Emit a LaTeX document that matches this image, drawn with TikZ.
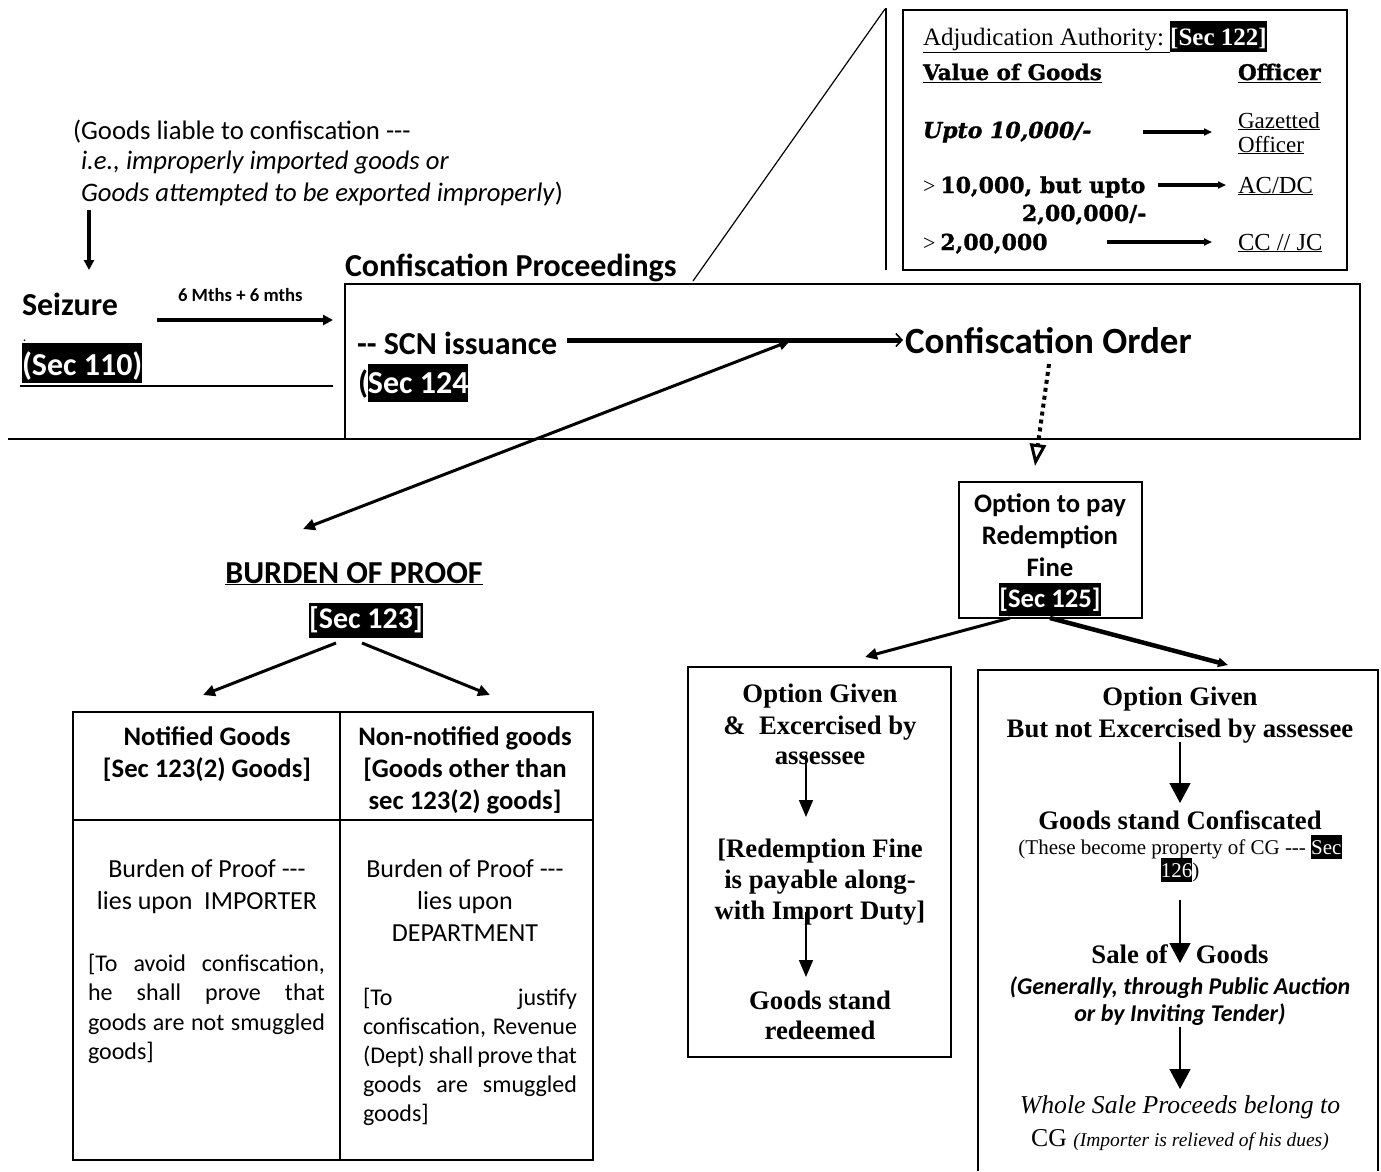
\documentclass[tikz,border=0pt]{standalone}
\usepackage{fontspec}
\setmainfont{Carlito}
\newfontfamily\tnr{Liberation Serif}
\newfontfamily\bkm{DejaVu Serif}[BoldFeatures={FakeBold=1.2},BoldItalicFeatures={FakeBold=1.2}]
\usetikzlibrary{arrows.meta}
\newcommand\fsz[2]{\fontsize{#1}{#2}\selectfont}
% white text on a black band: #1 depth below baseline, #2 band height
\newcommand\hlx[3]{{\setlength\fboxsep{0pt}\colorbox{black}{\rule[-#1]{0pt}{#2}\textcolor{white}{#3}}}}
\begin{document}
\begin{tikzpicture}[x=1pt,y=-1pt,
  every node/.style={inner sep=0pt,outer sep=0pt},
  lbl/.style={anchor=base west},
  ctr/.style={anchor=base},
  thick arrow/.style={line width=3pt,-{Triangle[length=12pt,width=11pt]}},
  slim arrow/.style={line width=1.5pt,-{Triangle[length=17pt,width=14pt]}},
  big arrow/.style={line width=1.5pt,-{Triangle[length=20pt,width=21pt]}},
  rate arrow/.style={line width=4pt,-{Triangle[length=8pt,width=7pt]}},
  frame/.style={draw,line width=1.5pt,anchor=north west},
]
\useasboundingbox[fill=white] (0,0) rectangle (1381,1171);

% ---------- goods liable to confiscation
\node[lbl] (liable1) at (73,139) {\fsz{26.7}{32}(Goods liable to confiscation -{}-{}-};
\node[lbl] (liable2) at (81,169) {\fsz{26.7}{32}\itshape i.e., improperly imported goods or};
\node[lbl] (liable3) at (81,201) {\fsz{26.7}{32}\textit{Goods attempted to be exported improperly})};
\coordinate (liableOut) at (89,210);
\coordinate (seizIn) at (89,270);
\draw[line width=4pt,-{Triangle[length=10pt,width=10pt]}] (liableOut) -- (seizIn);

% ---------- seizure
\node[lbl] (seizure) at (22,315) {\fsz{32}{32}\bfseries Seizure};
\node[lbl] (dot) at (23,341) {\fsz{14}{16}.};
\node[lbl] (sec110) at (22,375) {\fsz{32}{32}\bfseries\hlx{8pt}{40pt}{(Sec 110)}};
\draw[line width=1.5pt] (20,386) -- (333,386);
\node[lbl] (months) at (178,301) {\fsz{18.7}{22}\bfseries 6 Mths + 6 mths};
\coordinate (seizOut) at (157,320);
\coordinate (procIn) at (333,320);
\draw[line width=4.5pt,-{Triangle[length=10pt,width=10pt]}] (seizOut) -- (procIn);

% ---------- confiscation proceedings
\node[lbl] (proctitle) at (345,276) {\fsz{32}{32}\bfseries Confiscation Proceedings};
\node[frame,minimum width=1015pt,minimum height=155pt] (procbox) at (345,284) {};
\draw[line width=1.8pt] (8,439) -- (1360,439);
\node[lbl] (scn) at (357,354) {\fsz{32}{32}\bfseries -{}- SCN issuance};
\node[lbl] (sec124) at (358,393) {\fsz{32}{32}\bfseries (\hlx{9pt}{38pt}{Sec 124}};
\node[lbl] (order) at (905,353) {\fsz{37}{40}\bfseries Confiscation Order};
\coordinate (scnOut) at (567,340);
\coordinate (orderIn) at (903,340);
\draw[line width=5pt,-{Straight Barb[length=6pt,width=13pt,line width=1.6pt]}] (scnOut) -- (orderIn);
\coordinate (scnMid) at (790,341);
\coordinate (burdenIn) at (303,529);
\draw[line width=3pt,{Triangle[length=11pt,width=10pt]}-{Triangle[length=12pt,width=11pt]}] (scnMid) -- (burdenIn);
\coordinate (orderOut) at (1049,364);
\coordinate (optIn) at (1035,466);
\draw[line width=4pt,dash pattern=on 4pt off 4pt,-{Triangle[open,length=22pt,width=16pt,line width=3pt]}] (orderOut) -- (optIn);

% ---------- adjudication authority
\draw[line width=1.5pt] (886,8) -- (886,270);
\draw[line width=1.2pt] (693,281) -- (885,9);
\node[frame,line width=2pt,minimum width=444pt,minimum height=260pt] (adjbox) at (903,10) {};
\node[lbl] (adjtitle) at (923,45) {\fsz{25}{30}\tnr\underline{Adjudication Authority:\ }\hlx{7pt}{31pt}{\bfseries[Sec 122]}};
\node[lbl] (valhead) at (923,80) {\fsz{21.5}{25}\bkm\bfseries\underline{Value of Goods}};
\node[lbl] (offhead) at (1238,80) {\fsz{21.5}{25}\bkm\bfseries\underline{Officer}};
\node[lbl] (rate1) at (923,138) {\fsz{22}{25}\bkm\bfseries\itshape Upto 10,000/-};
\node[lbl] (off1a) at (1238,128) {\fsz{23}{24}\tnr\underline{Gazetted}};
\node[lbl] (off1b) at (1238,152) {\fsz{23}{24}\tnr\underline{Officer}};
\node[lbl] (rate2) at (923,193) {\fsz{22}{25}{\tnr\mdseries >} \bkm\bfseries 10,000, but upto};
\node[lbl] (rate2b) at (1022,221) {\fsz{22}{25}\bkm\bfseries 2,00,000/-};
\node[lbl] (off2) at (1238,193) {\fsz{24.5}{28}\tnr\underline{AC/DC}};
\node[lbl] (rate3) at (923,250) {\fsz{22}{25}{\tnr\mdseries >} \bkm\bfseries 2,00,000};
\node[lbl] (off3) at (1238,250) {\fsz{24.5}{28}\tnr\underline{CC // JC}};
\coordinate (r1s) at (1143,132); \coordinate (r1e) at (1212,132);
\coordinate (r2s) at (1158,185); \coordinate (r2e) at (1226,185);
\coordinate (r3s) at (1107,242); \coordinate (r3e) at (1212,242);
\draw[rate arrow] (r1s) -- (r1e);
\draw[rate arrow] (r2s) -- (r2e);
\draw[rate arrow] (r3s) -- (r3e);

% ---------- option to pay redemption fine
\node[frame,minimum width=183pt,minimum height=136pt] (optbox) at (959,482) {};
\node[ctr] (opt1) at (1050,512) {\fsz{26.7}{32}\bfseries Option to pay};
\node[ctr] (opt2) at (1050,544) {\fsz{26.7}{32}\bfseries Redemption};
\node[ctr] (opt3) at (1050,576) {\fsz{26.7}{32}\bfseries Fine};
\node[ctr] (opt4) at (1050,607) {\fsz{26.7}{32}\bfseries\hlx{9pt}{33pt}{[Sec 125]}};
\coordinate (optOutL) at (1010,618);
\coordinate (givenIn) at (865,657);
\coordinate (optOutR) at (1050,618);
\coordinate (notIn) at (1228,665);
\draw[thick arrow] (optOutL) -- (givenIn);
\draw[line width=4.5pt,-{Triangle[length=10pt,width=9pt]}] (optOutR) -- (notIn);

% ---------- burden of proof
\node[ctr] (burden) at (354,583) {\fsz{32}{32}\bfseries\underline{BURDEN OF PROOF}};
\node[ctr] (sec123) at (366,628) {\fsz{30}{32}\bfseries\hlx{10pt}{35pt}{[Sec 123]}};
\coordinate (bL) at (336,643); \coordinate (notifIn) at (203,695);
\coordinate (bR) at (362,643); \coordinate (nonIn) at (490,695);
\draw[thick arrow] (bL) -- (notifIn);
\draw[thick arrow] (bR) -- (nonIn);

% table of notified / non-notified goods
\draw[line width=1.5pt] (73,712) rectangle (593,1160);
\draw[line width=1.5pt] (340,712) -- (340,1160);
\draw[line width=1.5pt] (73,820) -- (593,820);
\node[ctr] (n1) at (207,745) {\fsz{26.7}{32}\bfseries Notified Goods};
\node[ctr] (n2) at (207,777) {\fsz{26.7}{32}\bfseries [Sec 123(2) Goods]};
\node[ctr] (m1) at (465,745) {\fsz{26.7}{32}\bfseries Non-notified goods};
\node[ctr] (m2) at (465,777) {\fsz{26.7}{32}\bfseries [Goods other than};
\node[ctr] (m3) at (465,809) {\fsz{26.7}{32}\bfseries sec 123(2) goods]};
\node[ctr] (p1) at (207,877) {\fsz{26}{32}Burden of Proof -{}-{}-};
\node[ctr] (p2) at (207,909) {\fsz{26}{32}lies upon\ \ IMPORTER};
\node[lbl] (p3) at (88,971) {\parbox[t]{237pt}{\fsz{24}{29.5}[To avoid confiscation,\linebreak he shall prove that\linebreak goods are not smuggled\linebreak goods]}};
\node[ctr] (q1) at (465,877) {\fsz{26}{32}Burden of Proof -{}-{}-};
\node[ctr] (q2) at (465,909) {\fsz{26}{32}lies upon};
\node[ctr] (q3) at (465,941) {\fsz{26}{32}DEPARTMENT};
\node[lbl] (q4) at (363,1005) {\parbox[t]{214pt}{\fsz{24}{29.2}[To justify\linebreak confiscation, Revenue\linebreak (Dept) shall prove that\linebreak goods are smuggled\linebreak goods]}};

% ---------- option given and exercised
\node[frame,minimum width=263pt,minimum height=390pt] (givenbox) at (688,667) {};
\node[ctr] (g1) at (820,702) {\fsz{26.7}{31}\tnr\bfseries Option Given};
\node[ctr] (g2) at (820,734) {\fsz{26.7}{31}\tnr\bfseries \&\ \ Excercised by};
\node[ctr] (g3) at (820,764) {\fsz{26.7}{31}\tnr\bfseries assessee};
\node[ctr] (g4) at (820,857) {\fsz{26.7}{31}\tnr\bfseries [Redemption Fine};
\node[ctr] (g5) at (820,888) {\fsz{26.7}{31}\tnr\bfseries is payable along-};
\node[ctr] (g6) at (820,919) {\fsz{26.7}{31}\tnr\bfseries with Import Duty]};
\node[ctr] (g7) at (820,1009) {\fsz{26.7}{31}\tnr\bfseries Goods stand};
\node[ctr] (g8) at (820,1039) {\fsz{26.7}{31}\tnr\bfseries redeemed};
\coordinate (ga) at (806,755); \coordinate (gb) at (806,817);
\coordinate (gc) at (806,912); \coordinate (gd) at (806,977);
\draw[slim arrow] (ga) -- (gb);
\draw[slim arrow] (gc) -- (gd);

% ---------- option given but not exercised
\draw[line width=1.5pt] (978,1171) -- (978,670) -- (1378,670) -- (1378,1171);
\node[ctr] (h1) at (1180,705) {\fsz{26.7}{31}\tnr\bfseries Option Given};
\node[ctr] (h2) at (1180,737) {\fsz{26.7}{31}\tnr\bfseries But not Excercised by assessee};
\node[ctr] (h3) at (1180,829) {\fsz{26.7}{31}\tnr\bfseries Goods stand Confiscated};
\node[ctr] (h4) at (1180,854) {\fsz{21}{22}\tnr (These become property of CG -{}-{}- \hlx{5pt}{24pt}{Sec}};
\node[ctr] (h5) at (1180,877) {\fsz{21}{22}\tnr \hlx{5pt}{24pt}{126})};
\node[ctr] (h6) at (1180,963) {\fsz{26.7}{31}\tnr\bfseries Sale of\hspace{28pt}Goods};
\node[ctr] (h7) at (1180,994) {\fsz{24}{28}\bfseries\itshape (Generally, through Public Auction};
\node[ctr] (h8) at (1180,1021) {\fsz{24}{28}\bfseries\itshape or by Inviting Tender)};
\node[ctr] (h9) at (1180,1113) {\fsz{25.7}{30}\tnr\itshape Whole Sale Proceeds belong to};
\node[ctr] (h10) at (1180,1146) {\fsz{25.7}{30}\tnr CG {\fsz{19.5}{22}\itshape (Importer is relieved of his dues)}};
\coordinate (ha) at (1180,742); \coordinate (hb) at (1180,803);
\coordinate (hc) at (1180,900); \coordinate (hd) at (1180,963);
\coordinate (he) at (1180,1027); \coordinate (hf) at (1180,1089);
\draw[big arrow] (ha) -- (hb);
\draw[big arrow] (hc) -- (hd);
\draw[big arrow] (he) -- (hf);
\end{tikzpicture}
\end{document}
